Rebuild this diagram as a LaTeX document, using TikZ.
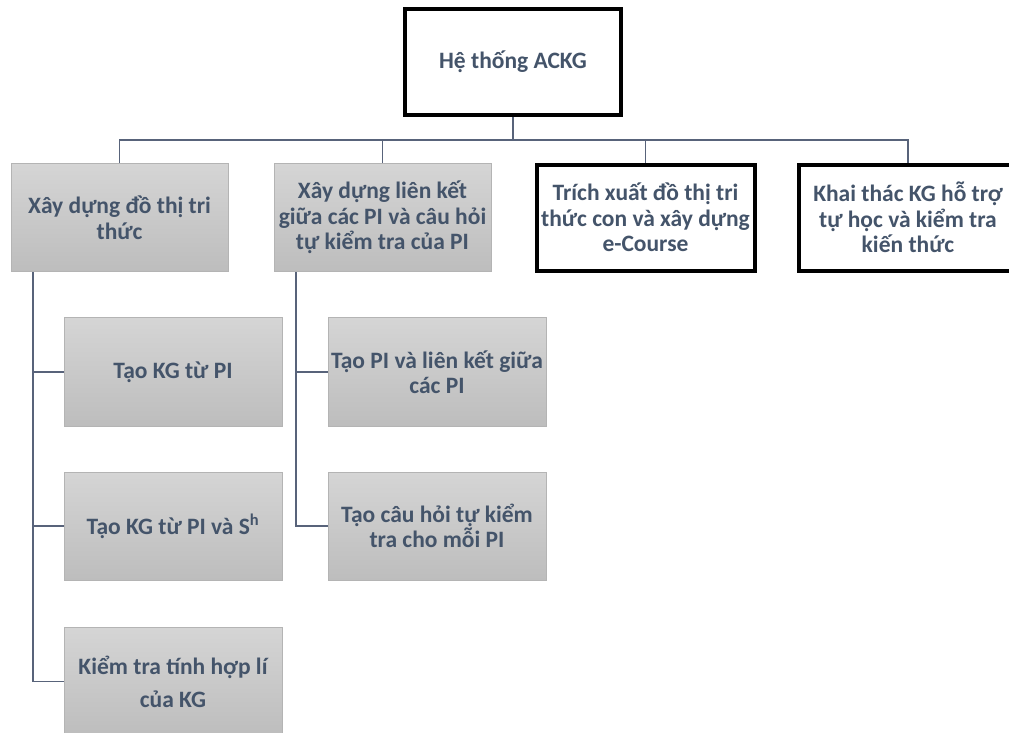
\documentclass[tikz,border=0pt]{standalone}
\usepackage{fontspec}
\setmainfont{Carlito}
\definecolor{txt}{HTML}{44546A}
\definecolor{wire}{HTML}{58637A}
\definecolor{gtop}{HTML}{D5D5D5}
\definecolor{gbot}{HTML}{BDBDBD}
\definecolor{gedge}{HTML}{B4B4B4}
\tikzset{
  base/.style={rectangle, inner sep=0pt, align=center, text=txt,
    font=\fontsize{23.5}{25.5}\selectfont\bfseries},
  rootbox/.style={base, draw=black, line width=4pt, fill=white},
  mainbox/.style={base, draw=black, line width=4pt, fill=white},
  graybox/.style={base, draw=gedge, line width=0.8pt, top color=gtop, bottom color=gbot},
  wire/.style={draw=wire, line width=1.6pt}
}
\begin{document}
\begin{tikzpicture}[x=1pt, y=-1pt]
\clip (0,0) rectangle (1009,732);
\fill[white] (0,0) rectangle (1009,732);

% root
\node[rootbox, minimum width=216pt, minimum height=106pt] (root) at (513,62) {Hệ thống ACKG};

% first level
\node[graybox, minimum width=217pt, minimum height=108pt] (b1) at (119.5,217.5) {Xây dựng đồ thị tri\\thức};
\node[graybox, minimum width=217pt, minimum height=108pt] (b2) at (382.5,217.5) {Xây dựng liên kết\\giữa các PI và câu hỏi\\tự kiểm tra của PI};
\node[mainbox, minimum width=218pt, minimum height=106pt] (b3) at (645.5,217.5) {Trích xuất đồ thị tri\\thức con và xây dựng\\e-Course};
\node[mainbox, minimum width=218pt, minimum height=106pt] (b4) at (908,217.5) {Khai thác KG hỗ trợ\\tự học và kiểm tra\\kiến thức};

% second level under b1
\node[graybox, minimum width=218pt, minimum height=109pt] (c1) at (173,372) {Tạo KG từ PI};
\node[graybox, minimum width=218pt, minimum height=108pt] (c2) at (173,526) {Tạo KG từ PI và S\textsuperscript{h}};
\node[graybox, minimum width=218pt, minimum height=109pt, font=\fontsize{23.5}{33}\selectfont\bfseries] (c3) at (173,681.5) {Kiểm tra tính hợp lí\\của KG};

% second level under b2
\node[graybox, minimum width=218pt, minimum height=109pt] (d1) at (437,372) {Tạo PI và liên kết giữa\\các PI};
\node[graybox, minimum width=218pt, minimum height=108pt] (d2) at (437,526) {Tạo câu hỏi tự kiểm\\tra cho mỗi PI};

% connectors
\coordinate (bus) at (513,140);
\draw[wire] (root.south) -- (bus);
\draw[wire] (b1.north) |- (bus) -| (b4.north);
\draw[wire] (b2.north) |- (bus);
\draw[wire] (b3.north) |- (bus);

\coordinate (s1) at (33,272);
\draw[wire] (s1) |- (c3.west);
\draw[wire] (s1 |- c1.west) -- (c1.west);
\draw[wire] (s1 |- c2.west) -- (c2.west);

\coordinate (s2) at (296,272);
\draw[wire] (s2) |- (d2.west);
\draw[wire] (s2 |- d1.west) -- (d1.west);
\end{tikzpicture}
\end{document}
